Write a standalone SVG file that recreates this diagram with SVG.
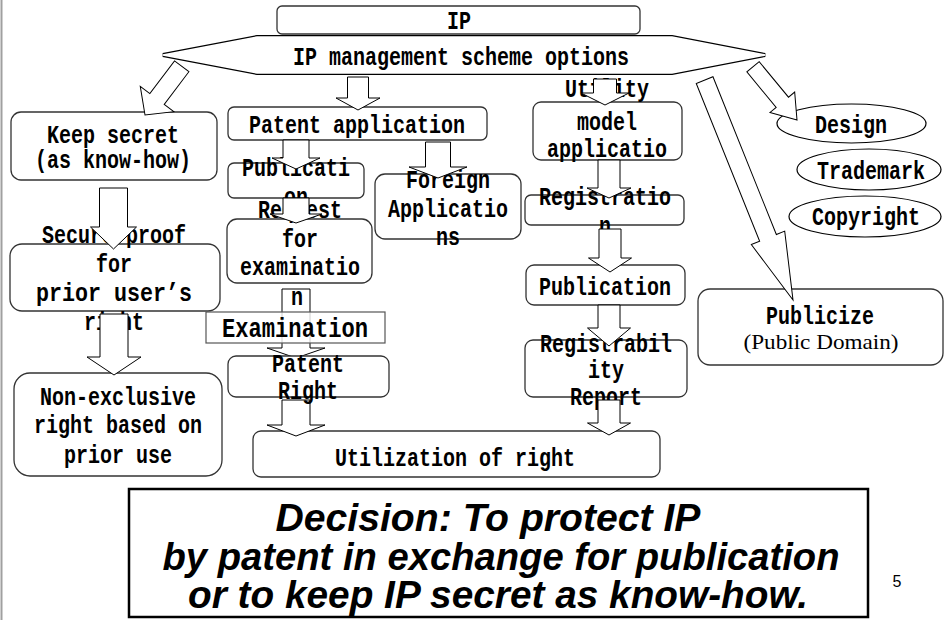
<svg xmlns="http://www.w3.org/2000/svg" width="944" height="620" viewBox="0 0 944 620">
<style>
.n{fill:#fff;stroke:#333;stroke-width:1.3}
.e{fill:#fff;stroke:#000;stroke-width:1.2}
.t{font-family:"Liberation Mono",monospace;font-weight:bold;font-size:25px;text-anchor:middle;fill:#000}
.a{fill:#fff;stroke:#000;stroke-width:1}
.d{font-family:"Liberation Sans",Arial,sans-serif;font-weight:bold;font-style:italic;font-size:38px;text-anchor:middle;fill:#000}
</style>
<rect width="944" height="620" fill="#fff"/>
<line x1="1.5" y1="0" x2="1.5" y2="620" stroke="#a0a0a0" stroke-width="2"/>
<g id="nodes">
<g id="ip"><rect class="n" x="277" y="6" width="363" height="28" rx="5"/><text class="t" x="459" y="29" textLength="24" lengthAdjust="spacingAndGlyphs">IP</text></g>
<g id="options"><polygon points="163,55 257,37 672,37 765,55 672,73 257,73" fill="#fff" stroke="#000" stroke-width="4"/><polygon points="163,55 257,37 672,37 765,55 672,73 257,73" fill="#fff" stroke="#fff" stroke-width="1.6"/><text class="t" x="461" y="65" textLength="336" lengthAdjust="spacingAndGlyphs">IP management scheme options</text></g>
<g id="keep-secret"><rect class="n" x="11" y="112" width="206" height="68" rx="10"/><text class="t" x="113" y="143" textLength="132" lengthAdjust="spacingAndGlyphs">Keep secret</text><text class="t" x="113" y="168" textLength="156" lengthAdjust="spacingAndGlyphs">(as know-how)</text></g>
<g id="patent-application"><rect class="n" x="228" y="107" width="259" height="33" rx="6"/><text class="t" x="357" y="133" textLength="216" lengthAdjust="spacingAndGlyphs">Patent application</text></g>
<g id="utility"><rect class="n" x="533" y="102" width="149" height="58" rx="8"/><text class="t" x="607" y="97" textLength="84" lengthAdjust="spacingAndGlyphs">Utility</text><text class="t" x="607" y="130" textLength="60" lengthAdjust="spacingAndGlyphs">model</text><text class="t" x="607" y="157" textLength="120" lengthAdjust="spacingAndGlyphs">applicatio</text><text class="t" x="607" y="185" textLength="12" lengthAdjust="spacingAndGlyphs">n</text></g>
<g id="design"><ellipse class="e" cx="851.5" cy="123.5" rx="74.5" ry="19.5"/><text class="t" x="851" y="133" textLength="72" lengthAdjust="spacingAndGlyphs">Design</text></g>
<g id="trademark"><ellipse class="e" cx="869" cy="169.5" rx="72" ry="20.5"/><text class="t" x="871" y="179" textLength="108" lengthAdjust="spacingAndGlyphs">Trademark</text></g>
<g id="copyright"><ellipse class="e" cx="865" cy="216.5" rx="76" ry="20.5"/><text class="t" x="866" y="225" textLength="108" lengthAdjust="spacingAndGlyphs">Copyright</text></g>
<g id="publication-patent"><rect class="n" x="228" y="163" width="136" height="35" rx="6"/><text class="t" x="296" y="176" textLength="108" lengthAdjust="spacingAndGlyphs">Publicati</text><text class="t" x="296" y="205" textLength="24" lengthAdjust="spacingAndGlyphs">on</text></g>
<g id="foreign"><rect class="n" x="375" y="174" width="146" height="65" rx="10"/><text class="t" x="448" y="188" textLength="84" lengthAdjust="spacingAndGlyphs">Foreign</text><text class="t" x="448" y="217" textLength="120" lengthAdjust="spacingAndGlyphs">Applicatio</text><text class="t" x="448" y="245" textLength="24" lengthAdjust="spacingAndGlyphs">ns</text></g>
<g id="registration"><rect class="n" x="525" y="195" width="159" height="30" rx="6"/><text class="t" x="605" y="205" textLength="132" lengthAdjust="spacingAndGlyphs">Registratio</text><text class="t" x="605" y="234" textLength="12" lengthAdjust="spacingAndGlyphs">n</text></g>
<g id="request"><rect class="n" x="227" y="219" width="145" height="64" rx="10"/><text class="t" x="300" y="218" textLength="84" lengthAdjust="spacingAndGlyphs">Request</text><text class="t" x="300" y="247" textLength="36" lengthAdjust="spacingAndGlyphs">for</text><text class="t" x="300" y="275" textLength="120" lengthAdjust="spacingAndGlyphs">examinatio</text><text class="t" x="297" y="305" textLength="12" lengthAdjust="spacingAndGlyphs">n</text></g>
<g id="secure-proof"><rect class="n" x="10" y="244" width="210" height="67" rx="12"/><text class="t" x="114" y="243" textLength="144" lengthAdjust="spacingAndGlyphs">Secure proof</text><text class="t" x="114" y="272" textLength="36" lengthAdjust="spacingAndGlyphs">for</text><text class="t" x="114" y="301" textLength="156" lengthAdjust="spacingAndGlyphs">prior user’s</text><text class="t" x="114" y="330" textLength="60" lengthAdjust="spacingAndGlyphs">right</text></g>
<g id="publication-utility"><rect class="n" x="526" y="265" width="159" height="40" rx="8"/><text class="t" x="605" y="295" textLength="132" lengthAdjust="spacingAndGlyphs">Publication</text></g>
<g id="registrability"><rect class="n" x="525" y="340" width="162" height="57" rx="8"/><text class="t" x="606" y="352" textLength="132" lengthAdjust="spacingAndGlyphs">Registrabil</text><text class="t" x="606" y="378" textLength="36" lengthAdjust="spacingAndGlyphs">ity</text><text class="t" x="606" y="405" textLength="72" lengthAdjust="spacingAndGlyphs">Report</text></g>
<g id="publicize"><rect class="n" x="698" y="289" width="245" height="76" rx="12"/><text class="t" x="820" y="324" textLength="108" lengthAdjust="spacingAndGlyphs">Publicize</text><text x="821" y="349" font-family="Liberation Serif,serif" font-size="22" text-anchor="middle" textLength="155" lengthAdjust="spacingAndGlyphs">(Public Domain)</text></g>
<g id="non-exclusive"><rect class="n" x="14" y="373" width="208" height="103" rx="16"/><text class="t" x="118" y="405" textLength="156" lengthAdjust="spacingAndGlyphs">Non-exclusive</text><text class="t" x="118" y="433" textLength="168" lengthAdjust="spacingAndGlyphs">right based on</text><text class="t" x="118" y="463" textLength="108" lengthAdjust="spacingAndGlyphs">prior use</text></g>
<g id="utilization"><rect class="n" x="253" y="431" width="407" height="46" rx="8"/><text class="t" x="455" y="466" textLength="240" lengthAdjust="spacingAndGlyphs">Utilization of right</text></g>
<g id="decision"><rect x="129" y="489" width="739" height="128" fill="#fff" stroke="#000" stroke-width="2.5"/><text class="d" x="488" y="531" textLength="425" lengthAdjust="spacingAndGlyphs">Decision:  To protect IP</text><text class="d" x="501" y="570" textLength="677" lengthAdjust="spacingAndGlyphs">by patent in exchange for publication</text><text class="d" x="498" y="608" textLength="620" lengthAdjust="spacingAndGlyphs">or to keep IP secret as know-how.</text></g>
<g id="page-number"><text x="897" y="587" font-family="Liberation Sans,Arial,sans-serif" font-size="16" text-anchor="middle">5</text></g>
</g>
<g id="connectors">
<path class="a" transform="translate(145,115) rotate(37)" d="M0,0 L-21,-20 L-9,-20 L-9,-61 L9,-61 L9,-20 L21,-20 Z"/>
<path class="a" d="M358,110 L336,98 L347.5,98 L347.5,77 L368.5,77 L368.5,98 L380,98 Z"/>
<path class="a" d="M605,105 L581,93 L593.5,93 L593.5,79 L616.5,79 L616.5,93 L629,93 Z"/>
<path class="a" transform="translate(797,120) rotate(-39.6)" d="M0,0 L-16,-23 L-8,-23 L-8,-69 L8,-69 L8,-23 L16,-23 Z"/>
<path class="a" transform="translate(793,300) rotate(-21.9)" d="M0,0 L-18,-67 L-9,-67 L-9,-237 L9,-237 L9,-67 L18,-67 Z"/>
<path class="a" d="M113.5,249 L90.5,227 L99.5,227 L99.5,188 L127.5,188 L127.5,227 L136.5,227 Z"/>
<path class="a" d="M114,375 L87,357 L100,357 L100,314 L128,314 L128,357 L141,357 Z"/>
<path class="a" d="M296,169 L272,158 L283,158 L283,140 L309,140 L309,158 L320,158 Z"/>
<path class="a" d="M438,178 L409,167 L425.5,167 L425.5,142 L450.5,142 L450.5,167 L467,167 Z"/>
<path class="a" d="M296,223 L270,214 L283,214 L283,198 L309,198 L309,214 L322,214 Z"/>
<path class="a" style="fill:none" d="M296,358 L267,348 L282,348 L282,289 L310,289 L310,348 L325,348 Z"/>
<path class="a" d="M296,436 L267,425 L282,425 L282,400 L310,400 L310,425 L325,425 Z"/>
<path class="a" d="M609,198 L587,188 L598,188 L598,160 L620,160 L620,188 L631,188 Z"/>
<path class="a" d="M610,272 L588.5,258 L599,258 L599,229 L621,229 L621,258 L631.5,258 Z"/>
<path class="a" d="M609,346 L587.5,328 L598,328 L598,305 L620,305 L620,328 L630.5,328 Z"/>
<path class="a" d="M609,435 L587.5,423 L598,423 L598,400 L620,400 L620,423 L630.5,423 Z"/>
</g>
<g id="nodes-front">
<g id="examination"><rect x="206" y="312" width="179" height="31" fill="#fff" fill-opacity="0.8" stroke="#555" stroke-width="1.2"/><text class="t" x="295" y="337" style="font-size:28px" textLength="146" lengthAdjust="spacingAndGlyphs">Examination</text></g>
<g id="patent-right"><rect class="n" x="228" y="356" width="161" height="41" rx="8"/><text class="t" x="308" y="372" textLength="72" lengthAdjust="spacingAndGlyphs">Patent</text><text class="t" x="308" y="399" textLength="60" lengthAdjust="spacingAndGlyphs">Right</text></g>
</g>
</svg>
